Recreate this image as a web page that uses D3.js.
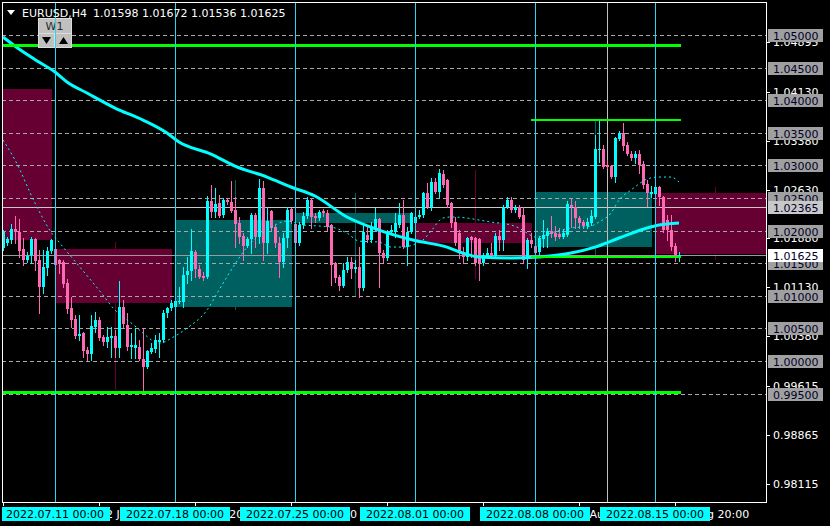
<!DOCTYPE html>
<html>
<head>
<meta charset="utf-8">
<script src="https://cdn.jsdelivr.net/npm/d3@7"></script>
<style>
  html, body { margin: 0; padding: 0; background: #000; }
  svg { display: block; }
  .mono { font-family: "DejaVu Sans", sans-serif; font-size: 11px; }
</style>
</head>
<body>
<svg id="chart" width="830" height="526"></svg>
<script>
const symbol = 'EURUSD,H4';
const lastQuote = ['1.01598', '1.01672', '1.01536', '1.01625'];

// H4 bars, oldest first (bar 13 = 2022.07.11 00:00)
const opens = [
  1.01733, 1.01810, 1.01856, 1.02025, 1.01979, 1.01718, 1.01549, 1.01626, 1.01871, 1.01549,
  1.01135, 1.01426, 1.01687, 1.01718, 1.01549, 1.01518, 1.01196, 1.00813, 1.00644, 1.00383,
  1.00429, 1.00169, 1.00107, 1.00521, 1.00629, 1.00368, 1.00291, 1.00353, 1.00383, 1.00199,
  1.00828, 1.00552, 1.00215, 1.00199, 1.00215, 1.00031, 0.99908, 1.00138, 1.00184, 1.00291,
  1.00322, 1.00736, 1.00813, 1.00828, 1.00905, 1.00905, 1.01319, 1.01380, 1.01672, 1.01411,
  1.01303, 1.01288, 1.02454, 1.02285, 1.02423, 1.02239, 1.02469, 1.02439, 1.02316, 1.02117,
  1.01917, 1.01764, 1.01871, 1.02239, 1.01902, 1.02653, 1.01810, 1.02301, 1.02055, 1.01810,
  1.01518, 1.01887, 1.02331, 1.02101, 1.01810, 1.02086, 1.02224, 1.02469, 1.02224, 1.02193,
  1.02301, 1.02270, 1.02086, 1.01503, 1.01288, 1.01150, 1.01396, 1.01518, 1.01411, 1.01442,
  1.01120, 1.01933, 1.01856, 1.02040, 1.02178, 1.01656, 1.01580, 1.01979, 1.01979, 1.02086,
  1.02239, 1.01748, 1.01979, 1.02117, 1.02209, 1.02239, 1.02577, 1.02362, 1.02745, 1.02592,
  1.02868, 1.02776, 1.02423, 1.02132, 1.01963, 1.01672, 1.01595, 1.01902, 1.01887, 1.01871,
  1.01503, 1.01610, 1.01656, 1.01610, 1.01917, 1.01856, 1.02362, 1.02469, 1.02316, 1.02362,
  1.02239, 1.01595, 1.01856, 1.01764, 1.01672, 1.01871, 1.01917, 1.01994, 1.01963, 1.01948,
  1.01902, 1.01933, 1.02393, 1.02362, 1.02193, 1.02132, 1.02071, 1.02117, 1.02209, 1.03236,
  1.03252, 1.03006, 1.02991, 1.02822, 1.03405, 1.03497, 1.03313, 1.03175, 1.03113, 1.03175,
  1.03021, 1.02715, 1.02561, 1.02561, 1.02669, 1.02515, 1.02163, 1.02009, 1.01764, 1.01598
];
const highs = [
  1.02009, 1.01902, 1.02101, 1.02224, 1.02178, 1.01887, 1.01672, 1.01902, 1.01887, 1.01702,
  1.01702, 1.01748, 1.01871, 1.01764, 1.01564, 1.01549, 1.01258, 1.00982, 1.00706, 1.00706,
  1.00445, 1.00215, 1.00706, 1.00752, 1.00675, 1.00399, 1.00521, 1.00521, 1.00475, 1.01227,
  1.00936, 1.00736, 1.00429, 1.00506, 1.00322, 1.00506, 1.00169, 1.00276, 1.00399, 1.00429,
  1.00782, 1.00828, 1.00936, 1.00951, 1.01135, 1.01442, 1.01595, 1.02025, 1.01702, 1.01472,
  1.01365, 1.02531, 1.02699, 1.02653, 1.02546, 1.02500, 1.02500, 1.02761, 1.02515, 1.02209,
  1.01963, 1.01902, 1.02270, 1.02270, 1.02791, 1.02761, 1.02362, 1.02316, 1.02086, 1.01902,
  1.01963, 1.02362, 1.02347, 1.02132, 1.02132, 1.02285, 1.02515, 1.02500, 1.02270, 1.02316,
  1.02331, 1.02316, 1.02101, 1.01518, 1.01319, 1.01503, 1.01595, 1.01595, 1.01549, 1.01748,
  1.02086, 1.02055, 1.02132, 1.02347, 1.02193, 1.01702, 1.02009, 1.02086, 1.02270, 1.02423,
  1.02469, 1.02055, 1.02285, 1.02239, 1.02316, 1.02592, 1.02730, 1.02807, 1.02807, 1.02945,
  1.02929, 1.02791, 1.02439, 1.02209, 1.02009, 1.01748, 1.01902, 1.01917, 1.01902, 1.01887,
  1.01656, 1.01733, 1.01810, 1.01963, 1.02009, 1.02393, 1.02515, 1.02515, 1.02393, 1.02393,
  1.02362, 1.01887, 1.01963, 1.01779, 1.01917, 1.02163, 1.02040, 1.02224, 1.02071, 1.02040,
  1.02009, 1.02454, 1.02485, 1.02454, 1.02224, 1.02163, 1.02193, 1.02316, 1.03466, 1.03681,
  1.03313, 1.03083, 1.03006, 1.03436, 1.03528, 1.03650, 1.03359, 1.03221, 1.03221, 1.03236,
  1.03067, 1.02776, 1.02684, 1.02684, 1.02684, 1.02531, 1.02239, 1.02239, 1.01810, 1.01672
];
const lows = [
  1.01702, 1.01779, 1.01810, 1.01810, 1.01595, 1.01472, 1.01518, 1.01503, 1.01396, 1.00736,
  1.01043, 1.01319, 1.01656, 1.01426, 1.01350, 1.01135, 1.00736, 1.00521, 1.00353, 1.00322,
  1.00061, 1.00015, 1.00015, 1.00445, 1.00322, 1.00245, 1.00215, 1.00061, 1.00061, 1.00061,
  1.00521, 1.00169, 1.00046, 1.00046, 1.00015, 0.99555, 0.99893, 1.00123, 1.00138, 1.00061,
  1.00291, 1.00675, 1.00782, 1.00798, 1.00890, 1.00828, 1.01196, 1.01242, 1.01288, 1.01273,
  1.01242, 1.01273, 1.02209, 1.02209, 1.02209, 1.02209, 1.02408, 1.02285, 1.01748, 1.01810,
  1.01549, 1.01748, 1.01656, 1.01748, 1.01810, 1.01549, 1.01656, 1.02009, 1.01748, 1.01288,
  1.01442, 1.01748, 1.02117, 1.01764, 1.01779, 1.02040, 1.02193, 1.02040, 1.02132, 1.02163,
  1.02224, 1.02009, 1.01166, 1.01212, 1.01089, 1.01135, 1.01365, 1.01273, 1.01365, 1.00982,
  1.01089, 1.01825, 1.01825, 1.02009, 1.01135, 1.01518, 1.01549, 1.01963, 1.01902, 1.02055,
  1.01733, 1.01472, 1.01963, 1.02086, 1.02193, 1.02209, 1.02347, 1.02316, 1.02577, 1.02515,
  1.02669, 1.02362, 1.02055, 1.01779, 1.01580, 1.01503, 1.01549, 1.01595, 1.01472, 1.01242,
  1.01472, 1.01580, 1.01580, 1.01595, 1.01702, 1.01702, 1.02347, 1.02285, 1.02285, 1.02193,
  1.01503, 1.01426, 1.01748, 1.01610, 1.01641, 1.01748, 1.01748, 1.01902, 1.01856, 1.01887,
  1.01887, 1.01917, 1.02055, 1.02040, 1.02040, 1.02040, 1.02040, 1.02086, 1.02193, 1.03052,
  1.02960, 1.02960, 1.02807, 1.02745, 1.03390, 1.03236, 1.03160, 1.03083, 1.03037, 1.02883,
  1.02653, 1.02377, 1.02515, 1.02515, 1.02393, 1.01979, 1.01856, 1.01702, 1.01534, 1.01536
];
const closes = [
  1.01979, 1.01871, 1.02025, 1.01979, 1.01687, 1.01549, 1.01610, 1.01871, 1.01534, 1.01135,
  1.01442, 1.01687, 1.01856, 1.01472, 1.01503, 1.01181, 1.00798, 1.00629, 1.00383, 1.00414,
  1.00153, 1.00107, 1.00537, 1.00629, 1.00353, 1.00291, 1.00368, 1.00383, 1.00199, 1.00828,
  1.00567, 1.00215, 1.00245, 1.00245, 1.00031, 0.99908, 1.00153, 1.00199, 1.00322, 1.00322,
  1.00736, 1.00813, 1.00890, 1.00920, 1.00920, 1.01319, 1.01380, 1.01687, 1.01411, 1.01288,
  1.01273, 1.02454, 1.02285, 1.02408, 1.02224, 1.02469, 1.02439, 1.02301, 1.02101, 1.01902,
  1.01764, 1.01871, 1.02239, 1.01902, 1.02653, 1.01810, 1.02147, 1.02040, 1.01810, 1.01518,
  1.01887, 1.02316, 1.02147, 1.01810, 1.02086, 1.02224, 1.02469, 1.02209, 1.02193, 1.02285,
  1.02270, 1.02055, 1.01472, 1.01273, 1.01150, 1.01396, 1.01518, 1.01411, 1.01442, 1.01120,
  1.01979, 1.01856, 1.02040, 1.02178, 1.01656, 1.01580, 1.01979, 1.02009, 1.02117, 1.02239,
  1.01748, 1.01979, 1.02270, 1.02209, 1.02239, 1.02577, 1.02362, 1.02745, 1.02592, 1.02883,
  1.02699, 1.02393, 1.02117, 1.01810, 1.01656, 1.01595, 1.01887, 1.01856, 1.01503, 1.01503,
  1.01626, 1.01656, 1.01610, 1.01917, 1.01856, 1.02362, 1.02469, 1.02316, 1.02362, 1.02209,
  1.01549, 1.01856, 1.01794, 1.01656, 1.01887, 1.01933, 1.01994, 1.01948, 1.01902, 1.01902,
  1.01963, 1.02408, 1.02362, 1.02193, 1.02117, 1.02071, 1.02132, 1.02224, 1.03252, 1.03252,
  1.02975, 1.02975, 1.02822, 1.03420, 1.03497, 1.03298, 1.03175, 1.03113, 1.03175, 1.03006,
  1.02699, 1.02577, 1.02592, 1.02669, 1.02515, 1.02009, 1.02009, 1.01748, 1.01626, 1.01625
];

// slow moving average (thick line), sampled at bar indexes
const maSlowBars = [0, 4, 9, 13, 16, 21, 28, 35, 41, 44, 52, 58, 66, 72, 78, 86, 94, 103, 111, 115, 119, 127, 134, 142, 148, 154, 161, 164, 169];
const maSlowValues = [1.04969, 1.04785, 1.04586, 1.04433, 1.04279, 1.04110, 1.03880, 1.03696, 1.03497, 1.03359,
  1.03175, 1.02991, 1.02822, 1.02669, 1.02531, 1.02209, 1.02009, 1.01848, 1.01748, 1.01656,
  1.01595, 1.01580, 1.01595, 1.01656, 1.01748, 1.01887, 1.02040, 1.02086, 1.02117];

// fast moving average (dotted line)
const maFastBars = [0, 3, 8, 12, 14, 19, 24, 28, 33, 35, 39, 43, 46, 51, 54, 58, 61, 66, 71, 75,
  79, 82, 86, 89, 94, 97, 100, 103, 105, 107, 110, 112, 116, 119, 122, 127, 129, 131, 133, 135,
  137, 142, 147, 149, 152, 154, 157, 159, 161, 164, 167, 169];
const maFastValues = [1.03390, 1.03083, 1.02423, 1.01979, 1.01825, 1.01457, 1.01089, 1.00782, 1.00537, 1.00429,
  1.00276, 1.00383, 1.00506, 1.00782, 1.01089, 1.01488, 1.01748, 1.02009, 1.02147, 1.02086,
  1.02071, 1.02055, 1.01963, 1.01840, 1.01825, 1.01748, 1.01748, 1.01794, 1.01856, 1.01994,
  1.02193, 1.02209, 1.02193, 1.02163, 1.02132, 1.02086, 1.02040, 1.01963, 1.01902, 1.01917,
  1.01963, 1.02040, 1.02071, 1.02132, 1.02270, 1.02469, 1.02623, 1.02715, 1.02791, 1.02822,
  1.02822, 1.02745];

// weekly candles drawn as boxes
const weekStartBars = [-17, 13, 43, 73, 103, 133, 163];
const weekOpen = [1.04172, 1.01718, 1.00828, 1.02117, 1.02117, 1.01748, 1.02577];
const weekHigh = [1.04300, 1.01825, 1.02776, 1.02577, 1.02929, 1.03696, 1.02669];
const weekLow = [1.01800, 0.99555, 1.00782, 1.00982, 1.01258, 1.01580, 1.01549];
const weekClose = [1.01856, 1.00890, 1.02163, 1.02270, 1.01810, 1.02592, 1.01641];

// horizontal objects
const levelPrices = [1.05, 1.045, 1.04, 1.035, 1.03, 1.025, 1.02, 1.015, 1.01, 1.005, 1.0, 0.995];
const markedPrice = 1.02365;
const bidPrice = 1.01625;
const greenPrices = [1.04839, 0.99532, 1.03696, 1.01603];
const greenStartBars = [-2, -2, 132, 132];
const verticalLineBar = 151;

// price scale labels
const scaleLabels = ['1.04895', '1.04130', '1.03380', '1.02630', '1.01880', '1.01130', '1.00380', '0.99615', '0.98865', '0.98115'];

// time axis
const separatorBars = [13, 43, 73, 103, 133, 163];
const separatorLabels = ['2022.07.11 00:00', '2022.07.18 00:00', '2022.07.25 00:00', '2022.08.01 00:00', '2022.08.08 00:00', '2022.08.15 00:00'];
const timeTickBars = [0, 24, 48, 72, 96, 120, 144, 168];
const timeTickLabels = ['6 Jul 2022', '12 Jul 20:00', '18 Jul 20:00', '22 Jul 20:00', '28 Jul 20:00', '3 Aug 20:00', '9 Aug 20:00', '15 Aug 20:00'];

const colors = {
  bull: '#00ffff',
  bear: '#ff69b4',
  weekBull: '#005f5f',
  weekBear: '#660033',
  level: '#a8a8a8',
  green: '#00ff00',
  separator: '#22d8f0'
};

const plot = { left: 2, right: 766, top: 2, bottom: 502 };
const svg = d3.select('#chart').attr('shape-rendering', 'crispEdges');

const x = d3.scaleLinear().domain([0, 169]).range([3, 679]);
const y = d3.scaleLinear().domain([0.98115, 1.05]).range([484, 35]);
const px = v => Math.round(x(v));
const py = v => Math.round(y(v));

svg.append('rect').attr('width', 830).attr('height', 526).attr('fill', '#000');

svg.append('clipPath').attr('id', 'plot-clip')
  .append('rect')
  .attr('x', plot.left + 1).attr('y', plot.top + 1)
  .attr('width', plot.right - plot.left - 1).attr('height', plot.bottom - plot.top - 1);

const g = svg.append('g').attr('clip-path', 'url(#plot-clip)');

// weekly boxes
const weeks = weekStartBars.map((s, i) => ({
  start: s, open: weekOpen[i], high: weekHigh[i], low: weekLow[i], close: weekClose[i]
}));
const weekColor = d => d.close >= d.open ? colors.weekBull : colors.weekBear;

g.selectAll('line.week-wick')
  .data(weeks)
  .join('line')
  .attr('class', 'week-wick')
  .attr('x1', d => px(d.start + 15) + 0.5).attr('x2', d => px(d.start + 15) + 0.5)
  .attr('y1', d => py(d.high)).attr('y2', d => py(d.low))
  .attr('stroke', weekColor);

g.selectAll('rect.week')
  .data(weeks)
  .join('rect')
  .attr('class', 'week')
  .attr('x', d => px(d.start))
  .attr('width', d => px(d.start + 29) - px(d.start) + 1)
  .attr('y', d => py(Math.max(d.open, d.close)))
  .attr('height', d => Math.abs(py(d.open) - py(d.close)))
  .attr('fill', weekColor);

g.append('line')
  .attr('x1', px(verticalLineBar) + 0.5).attr('x2', px(verticalLineBar) + 0.5)
  .attr('y1', plot.top).attr('y2', plot.bottom)
  .attr('stroke', '#c0c0c0');

// dashed level lines
g.selectAll('line.level')
  .data(levelPrices)
  .join('line')
  .attr('class', 'level')
  .attr('x1', plot.left).attr('x2', plot.right)
  .attr('y1', d => py(d) + 0.5).attr('y2', d => py(d) + 0.5)
  .attr('stroke', colors.level)
  .attr('stroke-dasharray', '4,3');

g.selectAll('line.solid')
  .data([{ p: markedPrice, c: '#c8c8c8' }, { p: bidPrice, c: '#9a9a9a' }])
  .join('line')
  .attr('class', 'solid')
  .attr('x1', plot.left).attr('x2', plot.right)
  .attr('y1', d => py(d.p) + 0.5).attr('y2', d => py(d.p) + 0.5)
  .attr('stroke', d => d.c);

// candles
const bars = opens.map((o, i) => ({ i, o, h: highs[i], l: lows[i], c: closes[i] }));
const barColor = d => d.c >= d.o ? colors.bull : colors.bear;

const candle = g.append('g').selectAll('g')
  .data(bars)
  .join('g');

candle.append('line')
  .attr('x1', d => px(d.i) + 0.5).attr('x2', d => px(d.i) + 0.5)
  .attr('y1', d => py(d.h)).attr('y2', d => py(d.l) + 1)
  .attr('stroke', barColor);

candle.append('rect')
  .attr('x', d => px(d.i) - 1)
  .attr('width', 3)
  .attr('y', d => py(Math.max(d.o, d.c)))
  .attr('height', d => Math.max(1, Math.abs(py(d.o) - py(d.c))))
  .attr('fill', barColor);

// moving averages
const maLine = d3.line()
  .x(d => x(d[0]))
  .y(d => y(d[1]))
  .curve(d3.curveMonotoneX);

g.append('path')
  .datum(maFastBars.map((b, i) => [b, maFastValues[i]]))
  .attr('d', maLine)
  .attr('fill', 'none')
  .attr('stroke', colors.bull)
  .attr('stroke-width', 1)
  .attr('stroke-dasharray', '2,3')
  .attr('shape-rendering', 'auto');

g.append('path')
  .datum(maSlowBars.map((b, i) => [b, maSlowValues[i]]))
  .attr('d', maLine)
  .attr('fill', 'none')
  .attr('stroke', colors.bull)
  .attr('stroke-width', 3)
  .attr('shape-rendering', 'auto');

// green trend levels
g.selectAll('line.green')
  .data(greenPrices.map((p, i) => ({ p, start: greenStartBars[i], w: i < 2 ? 3 : 2 })))
  .join('line')
  .attr('class', 'green')
  .attr('x1', d => px(d.start)).attr('x2', px(169) + 2)
  .attr('y1', d => py(d.p)).attr('y2', d => py(d.p))
  .attr('stroke', colors.green)
  .attr('stroke-width', d => d.w);

// W1 button with arrows (sits under the period separators)
const btn = g.append('g').attr('class', 'mono');

btn.append('rect').attr('x', 38).attr('y', 18).attr('width', 33).attr('height', 15)
  .attr('fill', '#c0c0c0').attr('stroke', '#dcdcdc');
btn.append('text').attr('x', 54.5).attr('y', 30).attr('text-anchor', 'middle').attr('fill', '#2a2a2a').text('W1');

btn.selectAll('rect.arrow')
  .data([38, 55])
  .join('rect')
  .attr('class', 'arrow')
  .attr('x', d => d).attr('y', 33)
  .attr('width', 16).attr('height', 14)
  .attr('fill', '#c0c0c0')
  .attr('stroke', '#dcdcdc');

btn.append('path').attr('d', 'M42,37H51L46.5,44Z').attr('fill', '#000').attr('shape-rendering', 'auto');
btn.append('path').attr('d', 'M59,44H68L63.5,37Z').attr('fill', '#000').attr('shape-rendering', 'auto');

// period separators (foreground)
g.selectAll('line.sep')
  .data(separatorBars)
  .join('line')
  .attr('class', 'sep')
  .attr('x1', d => px(d) + 0.5).attr('x2', d => px(d) + 0.5)
  .attr('y1', plot.top).attr('y2', plot.bottom)
  .attr('stroke', colors.separator);

// frame
svg.append('rect')
  .attr('x', plot.left + 0.5).attr('y', plot.top + 0.5)
  .attr('width', plot.right - plot.left).attr('height', plot.bottom - plot.top)
  .attr('fill', 'none')
  .attr('stroke', '#fff');

// price scale
const scaleG = svg.append('g').attr('class', 'mono');

scaleG.selectAll('line')
  .data(scaleLabels)
  .join('line')
  .attr('x1', plot.right).attr('x2', plot.right + 4)
  .attr('y1', d => py(+d) + 0.5).attr('y2', d => py(+d) + 0.5)
  .attr('stroke', '#fff');

scaleG.selectAll('text')
  .data(scaleLabels)
  .join('text')
  .attr('x', 773)
  .attr('y', d => py(+d) + 4)
  .attr('fill', '#fff')
  .text(d => d);

const tags = levelPrices.map(p => ({ p, bg: '#a0a0a0' }))
  .concat([{ p: markedPrice, bg: '#c8c8c8' }, { p: bidPrice, bg: '#ffffff' }]);

const tag = svg.append('g').attr('class', 'mono')
  .selectAll('g')
  .data(tags)
  .join('g')
  .attr('transform', d => `translate(768,${ py(d.p) - 6 })`);

tag.append('rect')
  .attr('width', 55).attr('height', 13)
  .attr('fill', d => d.bg);

tag.append('text')
  .attr('x', 5).attr('y', 10.5)
  .attr('fill', '#000028')
  .text(d => d.p.toFixed(5));

// time axis
const timeG = svg.append('g').attr('class', 'mono');

timeG.selectAll('line')
  .data(timeTickBars)
  .join('line')
  .attr('x1', d => px(d) + 0.5).attr('x2', d => px(d) + 0.5)
  .attr('y1', plot.bottom).attr('y2', plot.bottom + 4)
  .attr('stroke', '#fff');

timeG.selectAll('text.tick')
  .data(timeTickBars)
  .join('text')
  .attr('class', 'tick')
  .attr('x', d => px(d))
  .attr('y', 518)
  .attr('fill', '#fff')
  .text((d, i) => timeTickLabels[i]);

const sepTag = timeG.selectAll('g.sep-tag')
  .data(separatorBars)
  .join('g')
  .attr('class', 'sep-tag');

sepTag.append('rect')
  .attr('x', d => Math.max(plot.left, px(d) - 55))
  .attr('width', d => px(d) + 55 - Math.max(plot.left, px(d) - 55))
  .attr('y', 507).attr('height', 14)
  .attr('fill', colors.bull);

sepTag.append('text')
  .attr('x', d => px(d))
  .attr('y', 518)
  .attr('text-anchor', 'middle')
  .attr('fill', '#000')
  .text((d, i) => separatorLabels[i]);

// header
const head = svg.append('g').attr('class', 'mono');

head.append('path')
  .attr('d', 'M7,10H15L11,15Z')
  .attr('fill', '#fff')
  .attr('shape-rendering', 'auto');

head.append('text').attr('x', 22).attr('y', 17).attr('fill', '#fff').text(symbol);
head.append('text').attr('x', 93).attr('y', 17).attr('fill', '#fff').text(lastQuote.join(' '));
</script>
</body>
</html>
